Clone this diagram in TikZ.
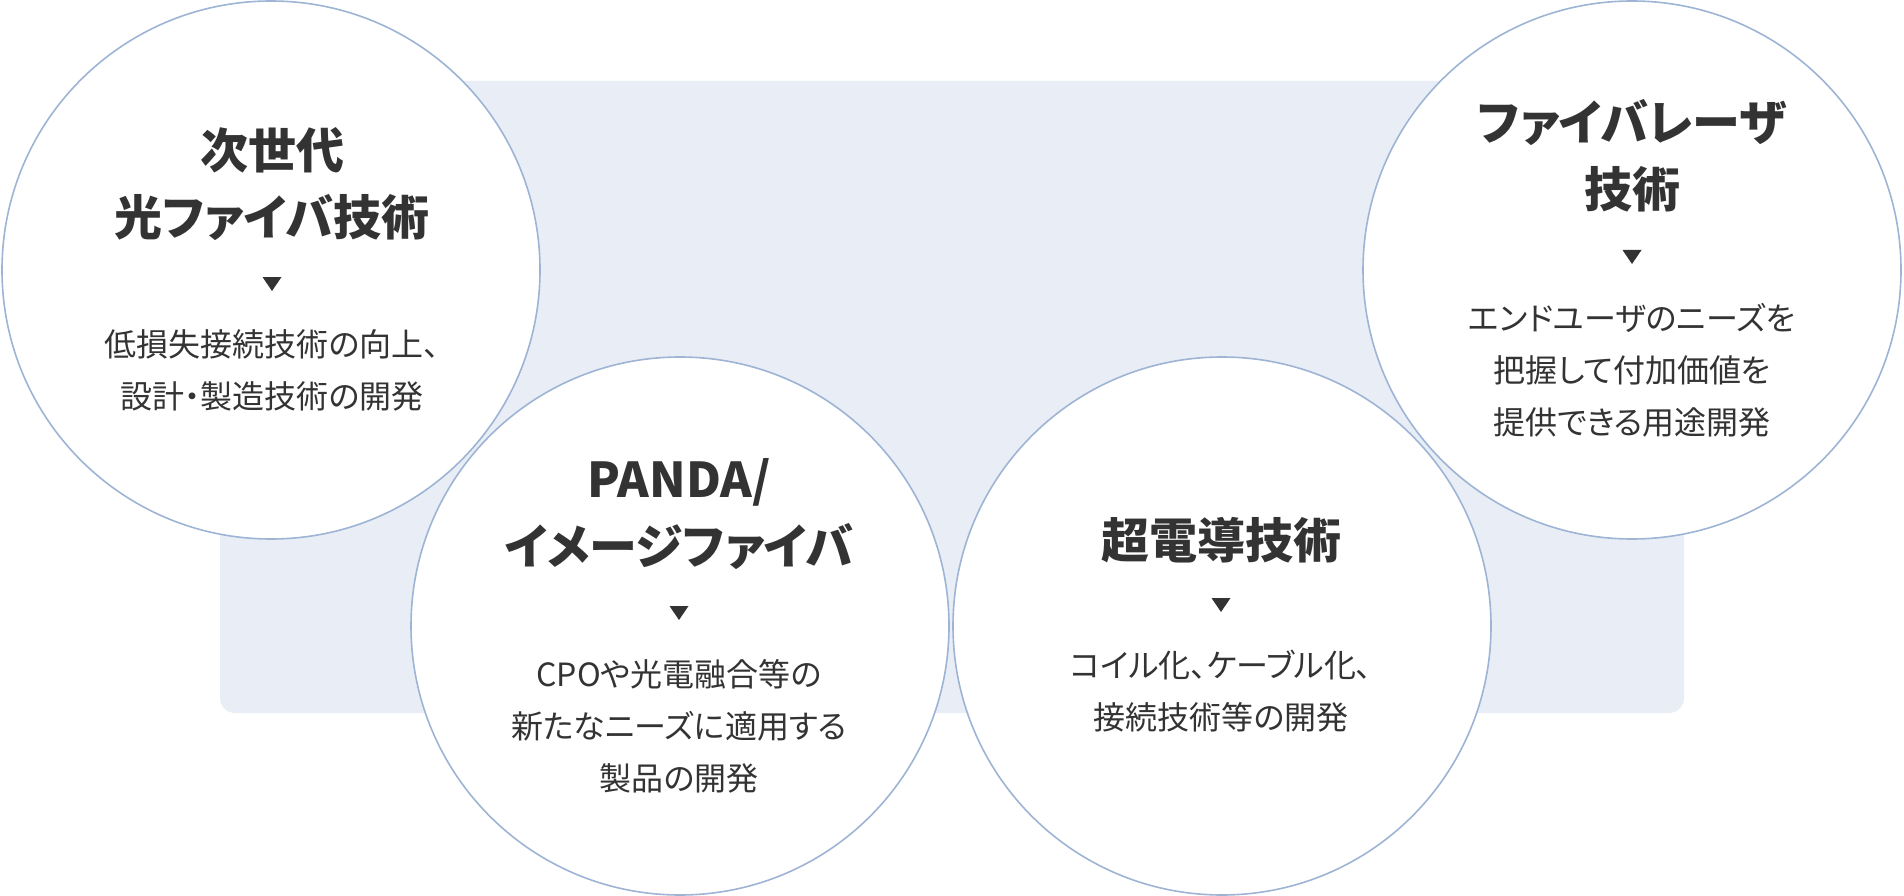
\documentclass[tikz,border=0pt]{standalone}
\usepackage{fontspec}
\setmainfont[RawFeature=+palt]{Noto Sans CJK JP}
\usetikzlibrary{positioning}

\definecolor{panel}{HTML}{E9EEF6}
\definecolor{rim}{HTML}{9EB4D4}
\definecolor{ink}{HTML}{333333}

\newcommand{\downtri}[1]{\fill[ink] (#1) ++(-9.5,-7) -- ++(19,0) -- ++(-9.5,14) -- cycle;}

\begin{document}
\begin{tikzpicture}[x=1pt,y=-1pt,
  bubble/.style={circle,draw=rim,line width=1.6pt,fill=white,minimum size=538pt,inner sep=0pt},
  head/.style={align=center,text=ink,font=\fontsize{48}{67}\selectfont\bfseries},
  body/.style={align=center,text=ink,font=\fontsize{32}{52}\selectfont}]
\useasboundingbox (0,0) rectangle (1904,896);
\fill[panel,rounded corners=15pt] (220,81) rectangle (1684,713);

% left top
\node[bubble] (fiber) at (271,270) {};
\node[head] (fiberhead) at (272,184) {次世代\\光ファイバ技術};
\coordinate (fibertri) at (272,284);
\downtri{fibertri}
\node[body] (fibertext) at (272,370) {低損失接続技術の向上、\\設計・製造技術の開発};

% panda
\node[bubble] (panda) at (680,626) {};
\node[head] (pandahead) at (679,514) {PANDA/\\イメージファイバ};
\coordinate (pandatri) at (679,613);
\downtri{pandatri}
\node[body] (pandatext) at (679,726) {CPOや光電融合等の\\新たなニーズに適用する\\製品の開発};

% superconductor
\node[bubble] (super) at (1222,626) {};
\node[head] (superhead) at (1221,540) {超電導技術};
\coordinate (supertri) at (1221,605);
\downtri{supertri}
\node[body] (supertext) at (1221,691) {コイル化、ケーブル化、\\接続技術等の開発};

% right top
\node[bubble] (laser) at (1632,270) {};
\node[head] (laserhead) at (1632,156) {ファイバレーザ\\技術};
\coordinate (lasertri) at (1632,257);
\downtri{lasertri}
\node[body] (lasertext) at (1632,370) {エンドユーザのニーズを\\把握して付加価値を\\提供できる用途開発};
\end{tikzpicture}
\end{document}
